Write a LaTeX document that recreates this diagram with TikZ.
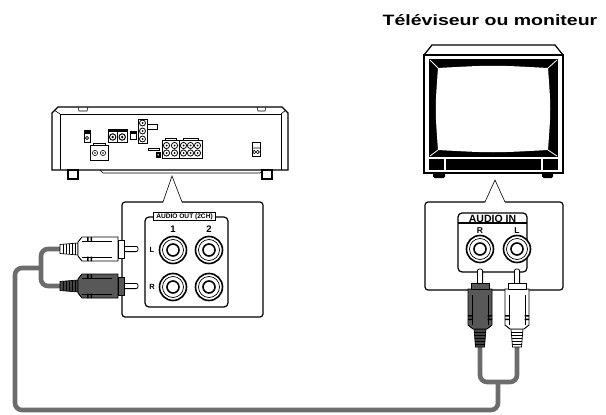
\documentclass[tikz,border=0pt]{standalone}
\usepackage{fontspec}
\setmainfont{Liberation Sans}
\usetikzlibrary{positioning}
\definecolor{cablegray}{RGB}{108,108,108}
\definecolor{plugdark}{RGB}{88,88,88}
\definecolor{bootdark}{RGB}{68,68,68}

% RCA plug: #1 boot end, #2 rotation, #3 body colour, #4 boot colour
\newcommand{\rcaplug}[4]{%
\begin{scope}[shift={#1},rotate=#2]
\draw[fill=white,line width=0.8,rounded corners=2] (62,-2.6) rectangle (78,2.6);
\draw[fill=#4,line width=0.7] (0,-4.5) -- (18,-6) -- (18,6) -- (0,4.5) -- cycle;
\draw[line width=0.5] (3,-4.7) -- (3,4.7) (6,-5) -- (6,5) (9,-5.2) -- (9,5.2) (12,-5.5) -- (12,5.5) (15,-5.7) -- (15,5.7);
\draw[fill=#3,line width=0.9] (18,-7) -- (22,-12) -- (58,-12) -- (58,12) -- (22,12) -- (18,7) -- cycle;
\draw[line width=0.5] (22,-8) -- (52,-8) (22,8) -- (52,8);
\fill (27,-12) rectangle (28.5,-7.5) (30.5,-12) rectangle (32,-7.5) (27,12) rectangle (28.5,7.5) (30.5,12) rectangle (32,7.5);
\draw[fill=#3,line width=0.9] (58,-9) rectangle (64,9);
\end{scope}}

% RCA jack
\newcommand{\rcajack}[1]{%
\draw[fill=white,line width=1.6] #1 circle (13.5);
\draw[line width=0.7] #1 circle (10.5);
\draw[line width=1.6] #1 circle (6);}

\begin{document}
\begin{tikzpicture}[x=1pt,y=-1pt,
  cable/.style={draw=cablegray,line width=4.6,rounded corners=7},
  edge/.style={line width=1.2},
  thinedge/.style={line width=0.6},
  lbl/.style={font=\bfseries\fontsize{#1}{#1}\selectfont,inner sep=0pt}]
\useasboundingbox (0,0) rectangle (606,415);

% title
\node[lbl=15,anchor=base] (title) at (490,25) {\scalebox{1.3}[1]{Téléviseur ou moniteur}};

% receiver, rear view
\draw[edge,fill=white] (52,113) -- (58,107) -- (282,107) -- (288,113) -- (288,170) -- (52,170) -- cycle;
\draw[thinedge] (60,170) -- (60,114) -- (281,114) -- (281,170);
\draw[thinedge] (54,110) -- (60,114) (286,110) -- (281,114);
\draw[thinedge] (78,107) -- (79,111) -- (87,111) -- (88,107) (257,107) -- (258,111) -- (265,111) -- (266,107);
\draw[thinedge] (100,170) -- (103,173) -- (260,173) -- (263,170);
\draw[edge,fill=white] (68,170) rectangle (78,179) (262,170) rectangle (272,179);

\draw[thinedge,fill=white] (84,130) rectangle (90,142);
\fill (84,130) rectangle (90,134);
\draw[thinedge] (87,138) circle (1.6);
\draw[thinedge,fill=white] (90,145) rectangle (108,160) (93,143) rectangle (105,145);
\draw[thinedge] (95,153) circle (2.6) (103,153) circle (2.6);
\fill (95,153) circle (0.9) (103,153) circle (0.9);
\draw[thinedge,fill=white] (108,129) rectangle (117.5,142) (117.5,129) rectangle (127,142);
\fill (108,129) rectangle (127,132);
\draw[line width=1] (112.7,137) circle (3.2) (122.2,137) circle (3.2);
\fill (112.7,137) circle (1.3) (122.2,137) circle (1.3);
\draw[thinedge,fill=white] (130,131) rectangle (136,139);
\fill (130,131) rectangle (136,133.5);
\draw[thinedge,fill=white] (138,119) rectangle (147,143) (147,124) rectangle (157,129);
\draw[line width=0.8] (142.5,123) circle (3) (142.5,131) circle (3) (142.5,139) circle (3);
\fill (142.5,123) circle (1) (142.5,131) circle (1) (142.5,139) circle (1);
\draw[thinedge,fill=white] (148,148) rectangle (159,150.5);
\fill (156,152) rectangle (160.5,157.5);
\fill[white] (158.2,154.8) circle (0.8);
\draw[thinedge,fill=white] (162,140) rectangle (179,158) (165,138) rectangle (176,140);
\draw[thinedge,fill=white] (179,140) rectangle (202,158) (183,138) rectangle (198,140);
\draw[line width=0.8] (166.5,145.5) circle (3.1) (174.5,145.5) circle (3.1) (166.5,153) circle (3.1) (174.5,153) circle (3.1);
\draw[line width=0.8] (183.5,145.5) circle (3.1) (190.5,145.5) circle (3.1) (197.5,145.5) circle (3.1);
\draw[line width=0.8] (183.5,153) circle (3.1) (190.5,153) circle (3.1) (197.5,153) circle (3.1);
\fill (166.5,145.5) circle (1) (174.5,145.5) circle (1) (166.5,153) circle (1) (174.5,153) circle (1);
\fill (183.5,145.5) circle (1) (190.5,145.5) circle (1) (197.5,145.5) circle (1);
\fill (183.5,153) circle (1) (190.5,153) circle (1) (197.5,153) circle (1);
\draw[thinedge,fill=white] (252,142) rectangle (260,156);
\draw[thinedge] (252,148) -- (260,148) (254.3,152) circle (1.7) (257.7,152) circle (1.7);

% receiver panel
\draw[thinedge] (163,202) -- (172,176) -- (182,202);
\draw[edge,rounded corners=3] (163,202) -- (122,202) -- (122,317) -- (263,317) -- (263,202) -- (182,202);
\draw[edge,rounded corners=4] (145,217) rectangle (228,307);
\node[lbl=6.6,draw,fill=white,line width=0.9,inner xsep=3pt,inner ysep=1.3pt] (outlabel) at (184.5,216.5) {AUDIO OUT (2CH)};
\node[lbl=9.5,anchor=base] (one) at (173,232) {1};
\node[lbl=9.5,anchor=base] (two) at (209,232) {2};
\node[lbl=7.5] (outl) at (152,250) {L};
\node[lbl=7.5] (outr) at (152,287) {R};
\rcajack{(173,250)}
\rcajack{(209,250)}
\rcajack{(173,287)}
\rcajack{(209,287)}

% television
\draw[edge] (424,55) -- (432,45) -- (555,45) -- (563,55);
\draw[edge,fill=white] (424,55) rectangle (563,173);
\fill (429,59) rectangle (558,157);
\fill[white] (438,68) .. controls (493,65) .. (548,68) .. controls (551,109) .. (548,150) .. controls (493,153) .. (438,150) .. controls (435,109) .. (438,68) -- cycle;
\draw[white,line width=0.8] (430,60) -- (438,68) (557,60) -- (548,68) (430,156) -- (438,150) (557,156) -- (548,150);
\fill (429,159) rectangle (558,170);
\draw[white,line width=2] (444.5,159) -- (444.5,170) (541.5,159) -- (541.5,170);
\fill[rounded corners=1.5] (433,172) rectangle (445,178) (542,172) rectangle (553,178);

% television panel
\draw[thinedge] (485,202) -- (495,180) -- (505,202);
\draw[edge,rounded corners=3] (485,202) -- (425,202) -- (425,290) -- (563,290) -- (563,202) -- (505,202);
\draw[edge,rounded corners=4] (458,213) rectangle (527,272);
\draw[edge] (458,223) -- (527,223);
\node[lbl=10.5,anchor=base] (inlabel) at (492.5,222) {AUDIO IN};
\node[lbl=8.5,anchor=base] (inr) at (480,233) {R};
\node[lbl=8.5,anchor=base] (inl) at (517,233) {L};
\rcajack{(480,249)}
\rcajack{(517,249)}

% cable
\coordinate (wplug) at (60,249);
\coordinate (dplug) at (60,286);
\coordinate (lsplit) at (41,268);
\coordinate (rsplit) at (498,382);
\coordinate (rplug) at (480,347);
\coordinate (lplug) at (517,347);
\draw[cable] (wplug) -| (lsplit) |- (dplug);
\draw[cable] (lsplit) -| (15,410) -| (rsplit);
\draw[cable] (rplug) |- (rsplit) -| (lplug);

% plugs
\rcaplug{(wplug)}{0}{white}{white}
\rcaplug{(dplug)}{0}{plugdark}{bootdark}
\rcaplug{(rplug)}{90}{plugdark}{bootdark}
\rcaplug{(lplug)}{90}{white}{white}

\end{tikzpicture}
\end{document}
